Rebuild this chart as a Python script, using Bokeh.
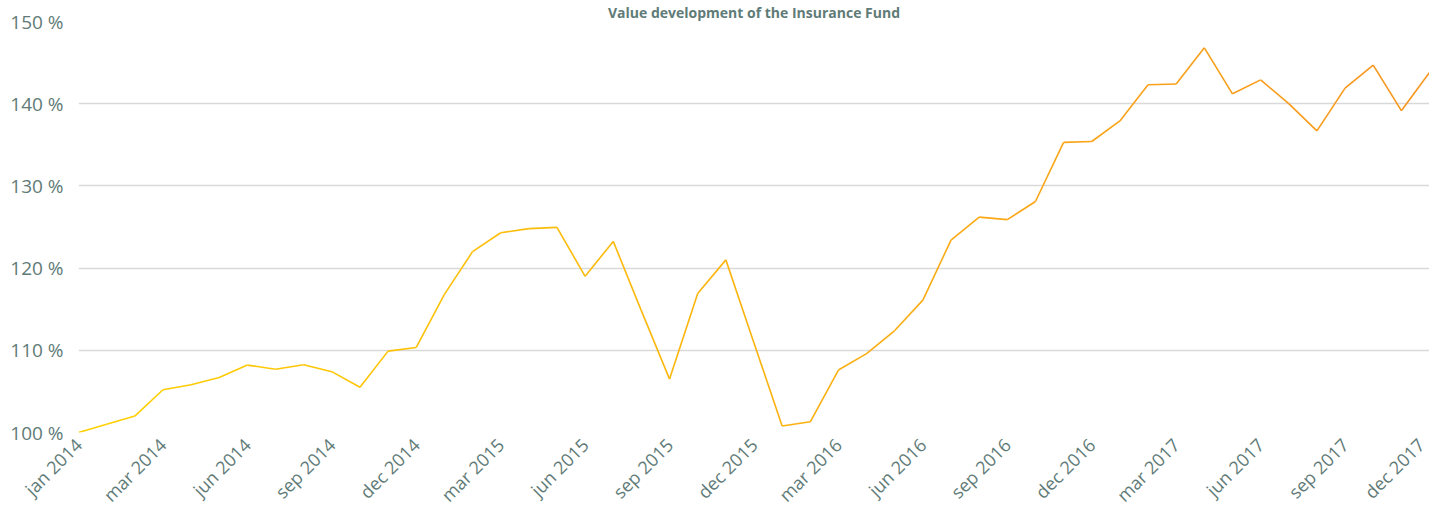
from bokeh.plotting import figure
from bokeh.models import Range1d, FixedTicker, PrintfTickFormatter, ColumnDataSource
from bokeh.embed import file_html
from bokeh.resources import INLINE

# ---- data ----
title_text = "Value development of the Insurance Fund"
values = [100.0, 101.0, 102.0, 105.2, 105.8, 106.7, 108.2, 107.7, 108.25, 107.4,
          105.5, 109.9, 110.35, 116.8, 122.0, 124.3, 124.8, 124.95, 119.0, 123.25,
          114.8, 106.5, 116.9, 121.0, 110.9, 100.8, 101.3, 107.6, 109.6, 112.4,
          116.1, 123.4, 126.2, 125.9, 128.1, 135.3, 135.4, 137.9, 142.3, 142.4,
          146.8, 141.2, 142.9, 140.0, 136.7, 141.9, 144.7, 139.15, 143.8]
tick_labels = ["jan 2014", "mar 2014", "jun 2014", "sep 2014", "dec 2014",
               "mar 2015", "jun 2015", "sep 2015", "dec 2015",
               "mar 2016", "jun 2016", "sep 2016", "dec 2016",
               "mar 2017", "jun 2017", "sep 2017", "dec 2017"]
y_ticks = [100, 110, 120, 130, 140, 150]

TEXT = "#5f7b78"
FONT = "Open Sans"

n = len(values)
idx = list(range(n))
label_step = 3
tick_pos = idx[::label_step]

p = figure(width=1429, height=517, output_backend="svg", toolbar_location=None,
           x_range=Range1d(0, n - 1), y_range=Range1d(100, 150),
           min_border_left=78, min_border_right=0, min_border_top=21, min_border_bottom=84,
           title=title_text)
p.outline_line_color = None
p.background_fill_color = "white"
p.border_fill_color = "white"

p.title.align = "center"
p.title.text_font = FONT
p.title.text_font_size = "14px"
p.title.text_font_style = "bold"
p.title.text_color = TEXT
p.title.standoff = 0
p.title.offset = 0

# gradient line: yellow -> orange
def lerp(c0, c1, t):
    return "#%02x%02x%02x" % tuple(int(round(a + (b - a) * t)) for a, b in zip(c0, c1))

c_start = (255, 208, 0)
c_end = (247, 150, 30)
seg_colors = [lerp(c_start, c_end, i / (n - 2)) for i in range(n - 1)]
src = ColumnDataSource(dict(x0=idx[:-1], y0=values[:-1], x1=idx[1:], y1=values[1:], c=seg_colors))
p.segment(x0="x0", y0="y0", x1="x1", y1="y1", color="c", line_width=1.6, source=src)

# axes
p.xaxis.ticker = FixedTicker(ticks=tick_pos)
p.xaxis.major_label_overrides = {pos: lab for pos, lab in zip(tick_pos, tick_labels)}
p.xaxis.major_label_orientation = 0.785398
p.yaxis.ticker = FixedTicker(ticks=y_ticks)
p.yaxis.formatter = PrintfTickFormatter(format="%d %%")
for ax in (p.xaxis, p.yaxis):
    ax.axis_line_color = None
    ax.major_tick_line_color = None
    ax.minor_tick_line_color = None
    ax.major_label_text_color = TEXT
    ax.major_label_text_font = FONT
p.xaxis.major_label_text_font_size = "18px"
p.yaxis.major_label_text_font_size = "19px"
p.yaxis.major_label_standoff = 9
p.xaxis.major_label_standoff = 3

p.xgrid.grid_line_color = None
p.ygrid.ticker = FixedTicker(ticks=y_ticks)
p.ygrid.grid_line_color = "#d9d9d9"
p.ygrid.grid_line_width = 1.3

open("out.html", "w").write(file_html(p, INLINE))
